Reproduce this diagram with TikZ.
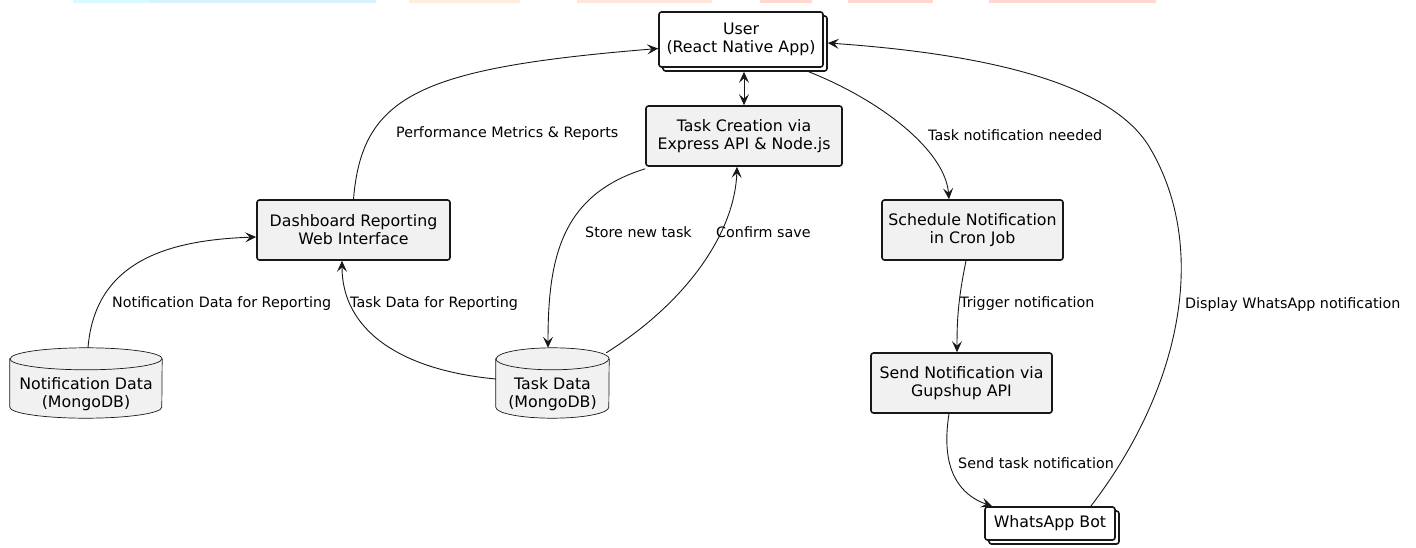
\documentclass[tikz,border=0pt]{standalone}
\usepackage{fontspec}
\setmainfont{DejaVu Sans}
\usepackage{tikz}
\usetikzlibrary{arrows.meta,shadows,calc}
\definecolor{lc}{HTML}{181818}
\definecolor{boxfill}{HTML}{F1F1F1}
\tikzset{
  pu/.tip={Stealth[length=11pt,width=10pt,inset=4.5pt]},
  proc/.style={draw=lc, fill=boxfill, line width=1.6pt, rounded corners=2.5pt, align=center,
    font=\fontsize{15.8}{18}\selectfont, inner sep=0pt},
  stack/.style={proc, fill=white, copy shadow={shadow xshift=4pt, shadow yshift=-4pt}},
  dbbody/.style={inner sep=0pt},
  dbline/.style={draw=lc, fill=boxfill, line width=0.7pt},
  storetext/.style={align=center, font=\fontsize{15.8}{18}\selectfont, inner sep=0pt},
  lbl/.style={anchor=west, font=\fontsize{14.3}{16}\selectfont, inner sep=0pt},
  arr/.style={draw=lc, line width=0.9pt, -pu}
}
% cylinder round a named node: #1 node, #2 half width
\newcommand{\drawdb}[2]{%
  \filldraw[dbline] ([yshift=-11pt]#1.north west) -- ([yshift=11pt]#1.south west)
    arc[start angle=180, end angle=360, x radius=#2, y radius=11pt]
    -- ([yshift=-11pt]#1.north east)
    arc[start angle=0, end angle=180, x radius=#2, y radius=11pt] -- cycle;
  \draw[dbline, fill=none] ([yshift=-11pt]#1.north west)
    arc[start angle=180, end angle=360, x radius=#2, y radius=11pt];
}
\begin{document}
\begin{tikzpicture}[x=1pt,y=-1pt]
    \useasboundingbox (0,0) rectangle (1416,548);
    % clipped strip at the top
    \fill[fill={rgb,255:red,214;green,250;blue,254}] (73,0) rectangle (150,3.5);
    \fill[fill={rgb,255:red,216;green,242;blue,250}] (150,0) rectangle (376,3.5);
    \fill[fill={rgb,255:red,255;green,238;blue,221}] (409,0) rectangle (520,3.5);
    \fill[fill={rgb,255:red,255;green,230;blue,218}] (577,0) rectangle (712,3.5);
    \fill[fill={rgb,255:red,255;green,217;blue,208}] (760,0) rectangle (812,3.5);
    \fill[fill={rgb,255:red,255;green,217;blue,208}] (848,0) rectangle (933,3.5);
    \fill[fill={rgb,255:red,255;green,217;blue,208}] (989,0) rectangle (1156,3.5);

    % Nodes
    \node[stack, minimum width=164pt, minimum height=55pt] (user) at (741,39.5) {User\\(React Native App)};
    \node[proc, minimum width=196pt, minimum height=60pt] (api) at (744,136) {Task Creation via\\Express API \& Node.js};
    \node[proc, minimum width=193pt, minimum height=60pt] (dash) at (353.5,230) {Dashboard Reporting\\Web Interface};
    \node[proc, minimum width=181pt, minimum height=60pt] (cron) at (972.5,230) {Schedule Notification\\in Cron Job};
    \node[proc, minimum width=181pt, minimum height=60pt] (gupshup) at (961.5,383) {Send Notification via\\Gupshup API};
    \node[stack, minimum width=130pt, minimum height=33pt] (bot) at (1050,523.5) {WhatsApp Bot};

    % Databases
    \node[dbbody, minimum width=152pt, minimum height=70pt] (notifdb) at (86,383) {};
    \drawdb{notifdb}{76pt}
    \node[storetext] (notiftext) at (86,394) {Notification Data\\(MongoDB)};
    \node[dbbody, minimum width=113pt, minimum height=70pt] (taskdb) at (552.5,383) {};
    \drawdb{taskdb}{56.5pt}
    \node[storetext] (tasktext) at (552.5,394) {Task Data\\(MongoDB)};

    % Connectors
    \draw[arr, pu-pu] (api.north) -- ([yshift=-4pt]api.north |- user.south);
    \draw[arr] (dash.north) .. controls (362,95) and (420,68) .. ([yshift=-9pt]user.west);
    \draw[arr] ([xshift=2pt]notifdb.north) .. controls (95,260) and (170,240) .. ([yshift=-7pt]dash.west);
    \draw[arr] ([yshift=4pt]taskdb.west) .. controls (400,370) and (342,330) .. ([xshift=-11.5pt]dash.south);
    \draw[arr] ([yshift=-2pt]api.south west) .. controls (560,195) and (548,260) .. ([xshift=-4.5pt]taskdb.north);
    \draw[arr] ([shift={(-3pt,-5pt)}]taskdb.north east) .. controls (690,300) and (735,230) .. ([xshift=-7pt]api.south);
    \draw[arr] ([shift={(-15pt,-4pt)}]user.south east) .. controls (880,100) and (945,150) .. ([xshift=-23.5pt]cron.north);
    \draw[arr] ([xshift=-6.5pt]cron.south) .. controls (958,300) and (957,320) .. ([xshift=-4.5pt]gupshup.north);
    \draw[arr] ([xshift=-12.5pt]gupshup.south) .. controls (940,470) and (960,495) .. ([xshift=8pt]bot.north west);
    \draw[arr] ([xshift=-25pt]bot.north east) .. controls (1180,390) and (1210,250) .. (1150,148)
        .. controls (1114,87) and (1000,55) .. ([shift={(4pt,-3.5pt)}]user.east);

    % Labels
    \node[lbl] (l1) at (396,134) {Performance Metrics \& Reports};
    \node[lbl] (l2) at (112,304) {Notification Data for Reporting};
    \node[lbl] (l3) at (350,304) {Task Data for Reporting};
    \node[lbl] (l4) at (585,232) {Store new task};
    \node[lbl] (l5) at (716,232) {Confirm save};
    \node[lbl] (l6) at (928,135) {Task notification needed};
    \node[lbl] (l7) at (960,304) {Trigger notification};
    \node[lbl] (l8) at (958,463) {Send task notification};
    \node[lbl] (l9) at (1185,305) {Display WhatsApp notification};
\end{tikzpicture}
\end{document}
